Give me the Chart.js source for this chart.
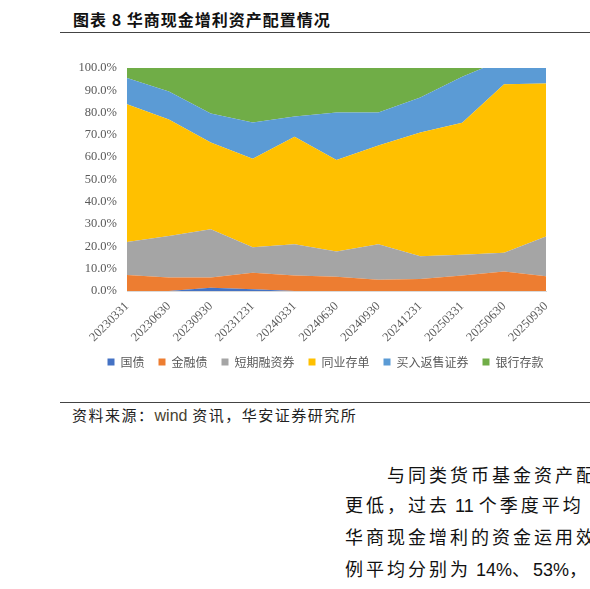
<!DOCTYPE html>
<html><head><meta charset="utf-8">
<script src="https://cdn.jsdelivr.net/npm/chart.js@4.4.1/dist/chart.umd.min.js"></script>
<style>
html,body{margin:0;padding:0;width:590px;height:589px;overflow:hidden;background:#fff;position:relative;}
#title{position:absolute;left:73px;top:7px;font-family:"Noto Sans CJK SC",sans-serif;font-weight:bold;font-size:16px;color:#111;white-space:nowrap;letter-spacing:1px;}
.rule{position:absolute;left:60px;width:540px;height:0;border-top:1.5px solid #444;}
#chartbox{position:absolute;left:0;top:0;width:590px;height:400px;}
#src{position:absolute;left:72px;top:404px;font-family:"Noto Sans CJK SC",sans-serif;font-size:15px;line-height:22px;color:#222;white-space:nowrap;letter-spacing:1.5px;}
#src .w{font-family:"Liberation Sans",sans-serif;font-size:16px;color:#4a4330;letter-spacing:0;}
.p{position:absolute;font-family:"Noto Sans CJK SC",sans-serif;font-size:18px;color:#111;white-space:nowrap;letter-spacing:3px;}
.p .n{font-family:"Liberation Sans",sans-serif;letter-spacing:0;}
</style></head><body>
<div id="title">图表 8 华商现金增利资产配置情况</div>
<div class="rule" style="top:32px"></div>
<div id="chartbox"><canvas id="c"></canvas></div>
<div class="rule" style="top:402px;border-top-width:1px;"></div>
<div id="src">资料来源：<span class="w">wind</span> 资讯，华安证券研究所</div>
<div class="p" style="left:387px;top:461px">与同类货币基金资产配</div>
<div class="p" style="left:345px;top:491px">更低，过去<span class="n"> 11 </span>个季度平均</div>
<div class="p" style="left:345px;top:523px">华商现金增利的资金运用效</div>
<div class="p" style="left:345px;top:555px">例平均分别为<span class="n"> 14%</span>、<span class="n">53%</span>，</div>
<script>
const categories = ['20230331','20230630','20230930','20231231','20240331','20240630','20240930','20241231','20250331','20250630','20250930'];
const seriesNames = ['国债','金融债','短期融资券','同业存单','买入返售证券','银行存款'];
const guozhai     = [0, 0, 1.5, 0.8, 0, 0, 0, 0, 0, 0, 0];
const jinrongzhai = [7.2, 6.0, 4.6, 7.4, 7.0, 6.4, 5.1, 5.4, 6.9, 8.8, 6.6];
const duanrong    = [14.8, 18.7, 21.6, 11.4, 14.0, 11.3, 15.9, 10.2, 9.3, 8.4, 17.8];
const tongye      = [61.8, 52.2, 38.9, 39.7, 48.2, 41.0, 44.3, 55.5, 59.2, 75.5, 68.7];
const maifan      = [11.7, 12.6, 13.0, 16.3, 9.1, 21.4, 14.8, 15.7, 20.7, 11.2, 6.9];
const yinhang     = [4.5, 10.5, 20.4, 24.4, 21.7, 19.9, 19.9, 13.2, 3.9, 0, 0];
const yTicks = [0,10,20,30,40,50,60,70,80,90,100];

const colors = ['#4472C4','#ED7D31','#A5A5A5','#FFC000','#5B9BD5','#70AD47'];
const values = [guozhai, jinrongzhai, duanrong, tongye, maifan, yinhang];

const datasets = values.map((v,i)=>({
  label: seriesNames[i],
  data: v,
  backgroundColor: colors[i],
  borderColor: colors[i],
  borderWidth: 0,
  pointRadius: 0,
  tension: 0,
  fill: i===0 ? 'origin' : '-1'
}));

const legendShift = {
  id: 'legendShift',
  afterLayout(chart) {
    if (chart.legend) { chart.legend.left += 14; chart.legend.right += 14; }
  }
};

new Chart(document.getElementById('c'), {
  type: 'line',
  data: { labels: categories, datasets },
  plugins: [legendShift],
  options: {
    responsive: true,
    maintainAspectRatio: false,
    animation: false,
    layout: { padding: { top: 68, right: 44, bottom: 22, left: 77 } },
    plugins: {
      tooltip: { enabled: false },
      legend: {
        position: 'bottom',
        labels: {
          boxWidth: 7, boxHeight: 7, padding: 14,
          color: '#595959',
          font: { family: '"Noto Sans CJK SC"', size: 12 }
        }
      }
    },
    scales: {
      x: {
        offset: false,
        grid: { display: false, drawTicks: false },
        border: { display: true, color: '#D9D9D9' },
        ticks: {
          autoSkip: false, minRotation: 45, maxRotation: 45, padding: 8,
          color: '#595959', font: { family: '"Liberation Serif"', size: 12.5 }
        },
        afterFit: s => { s.height = 51; }
      },
      y: {
        stacked: true,
        min: 0, max: 100,
        afterBuildTicks: s => { s.ticks = yTicks.map(v=>({value:v})); },
        grid: { display: false, drawTicks: false },
        border: { display: false },
        ticks: {
          padding: 10,
          color: '#595959', font: { family: '"Liberation Serif"', size: 12.5 },
          callback: v => v.toFixed(1) + '%'
        },
        afterFit: s => { s.width = 50; }
      }
    }
  }
});
</script>
</body></html>
